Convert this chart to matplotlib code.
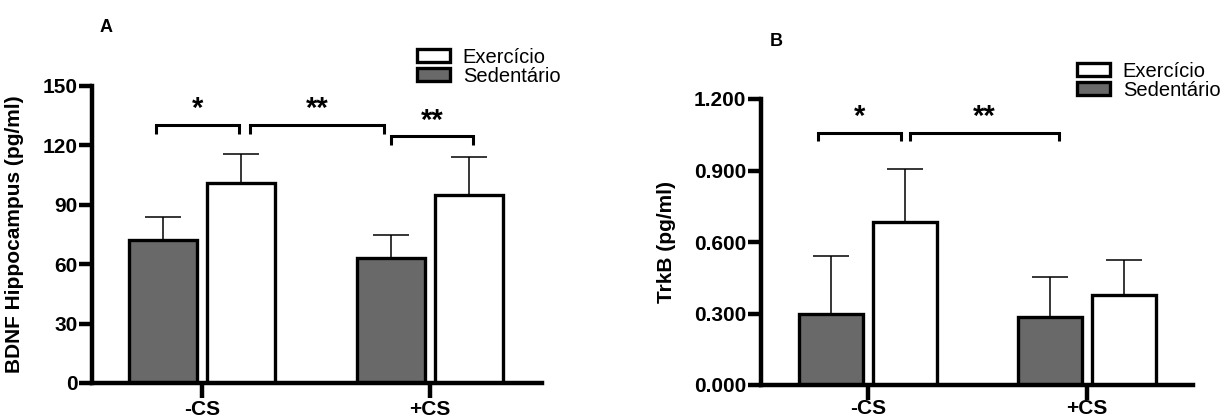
import matplotlib
matplotlib.use("Agg")
import matplotlib.pyplot as plt
from matplotlib.patches import Patch
import numpy as np

# ---------------- data ----------------
groups = ["-CS", "+CS"]
series = ["Sedentário", "Exercício"]

bdnf_sed = [72, 63]
bdnf_ex = [101, 95]
bdnf_sed_err = [12, 11.5]
bdnf_ex_err = [14.5, 19]
bdnf_ticks = [0, 30, 60, 90, 120, 150]
bdnf_ticklabels = ["0", "30", "60", "90", "120", "150"]

trkb_sed = [0.300, 0.285]
trkb_ex = [0.685, 0.378]
trkb_sed_err = [0.240, 0.170]
trkb_ex_err = [0.220, 0.145]
trkb_ticks = [0.0, 0.3, 0.6, 0.9, 1.2]
trkb_ticklabels = ["0.000", "0.300", "0.600", "0.900", "1.200"]

# significance annotations: (x1, x2, y, tip, label)
bdnf_sig = [(-0.20, 0.16, 130.5, 4.5, "*"),
            (0.21, 0.80, 130.5, 4.5, "**"),
            (0.83, 1.19, 124.5, 4.5, "**")]
trkb_sig = [(-0.23, 0.15, 1.057, 0.035, "*"),
            (0.19, 0.87, 1.057, 0.035, "**")]

# ---------------- style ----------------
W, H = 1220, 418
fig = plt.figure(figsize=(W / 100, H / 100), dpi=100)
NARROW = ["Liberation Sans Narrow", "Liberation Sans", "DejaVu Sans"]
SANS = ["Liberation Sans", "DejaVu Sans"]
GRAY = "#696969"
SPINE_LW = 3.2


def px_axes(left, right, bottom, top):
    return fig.add_axes([left / W, (H - bottom) / H, (right - left) / W, (bottom - top) / H])


def draw_panel(ax, sed, ex, sed_err, ex_err, ticks, ticklabels, ymax,
               xlim, offset, width, sig, ylabel, xpad):
    x = np.arange(len(groups))
    ax.bar(x - offset, sed, width, color=GRAY, edgecolor="black", linewidth=2.4,
           zorder=3, label=series[0])
    ax.bar(x + offset, ex, width, color="white", edgecolor="black", linewidth=2.4,
           zorder=3, label=series[1])
    ax.errorbar(x - offset, sed, yerr=[np.zeros(len(sed)), sed_err], fmt="none",
                ecolor="black", elinewidth=1.1, capsize=13, capthick=1.1, zorder=2)
    ax.errorbar(x + offset, ex, yerr=[np.zeros(len(ex)), ex_err], fmt="none",
                ecolor="black", elinewidth=1.1, capsize=13, capthick=1.1, zorder=2)
    ax.set_xlim(*xlim)
    ax.set_ylim(0, ymax)
    ax.set_yticks(ticks)
    ax.set_yticklabels(ticklabels)
    ax.set_xticks(x)
    ax.set_xticklabels(groups)
    for s in ["top", "right"]:
        ax.spines[s].set_visible(False)
    for s in ["left", "bottom"]:
        ax.spines[s].set_linewidth(SPINE_LW)
        ax.spines[s].set_zorder(5)
    ax.tick_params(axis="y", length=9.5, width=SPINE_LW, pad=1)
    ax.tick_params(axis="x", length=11, width=SPINE_LW, pad=xpad)
    for lab in ax.get_yticklabels() + ax.get_xticklabels():
        lab.set_fontfamily(NARROW)
        lab.set_fontweight("bold")
        lab.set_fontsize(15)
    ax.set_ylabel(ylabel, fontfamily=SANS, fontweight="bold", fontsize=15)
    for x1, x2, y, tip, lab in sig:
        ax.plot([x1, x1, x2, x2], [y - tip, y, y, y - tip], color="black",
                lw=2.2, clip_on=False, solid_capstyle="butt", solid_joinstyle="miter")
        ax.text((x1 + x2) / 2, y + tip * 0.2, lab, ha="center", va="bottom",
                fontsize=21, fontweight="bold", fontfamily=SANS, clip_on=False)


# Panel A
axA = px_axes(92, 542, 383, 86)
draw_panel(axA, bdnf_sed, bdnf_ex, bdnf_sed_err, bdnf_ex_err, bdnf_ticks,
           bdnf_ticklabels, 150, (-0.4825, 1.491), 0.171, 0.298, bdnf_sig,
           "BDNF Hippocampus (pg/ml)", 1)
axA.yaxis.set_label_coords(-0.152, 0.5)

# Panel B
axB = px_axes(761, 1193, 385, 99)
draw_panel(axB, trkb_sed, trkb_ex, trkb_sed_err, trkb_ex_err, trkb_ticks,
           trkb_ticklabels, 1.2, (-0.489, 1.484), 0.17, 0.292, trkb_sig,
           "TrkB (pg/ml)", -1)
axB.yaxis.set_label_coords(-0.196, 0.5)

# legends
def add_legend(ax, x_px, y_px):
    handles = [Patch(facecolor="white", edgecolor="black", linewidth=2.4),
               Patch(facecolor=GRAY, edgecolor="black", linewidth=2.4)]
    leg = ax.legend(handles, [series[1], series[0]], loc="upper left",
                    bbox_to_anchor=(x_px / W, 1 - y_px / H),
                    bbox_transform=fig.transFigure, frameon=False,
                    prop={"family": SANS, "size": 14.5},
                    handlelength=1.65, handleheight=0.62, handletextpad=0.62,
                    labelspacing=0.0, borderpad=0, borderaxespad=0)
    return leg

add_legend(axA, 417, 48)
add_legend(axB, 1077, 62)

# panel letters
fig.text(106 / W, 1 - 28 / H, "A", ha="center", va="center", fontsize=13,
         fontweight="bold", fontfamily=SANS)
fig.text(776 / W, 1 - 42 / H, "B", ha="center", va="center", fontsize=13,
         fontweight="bold", fontfamily=SANS)

fig.savefig("out.png", dpi=100)
